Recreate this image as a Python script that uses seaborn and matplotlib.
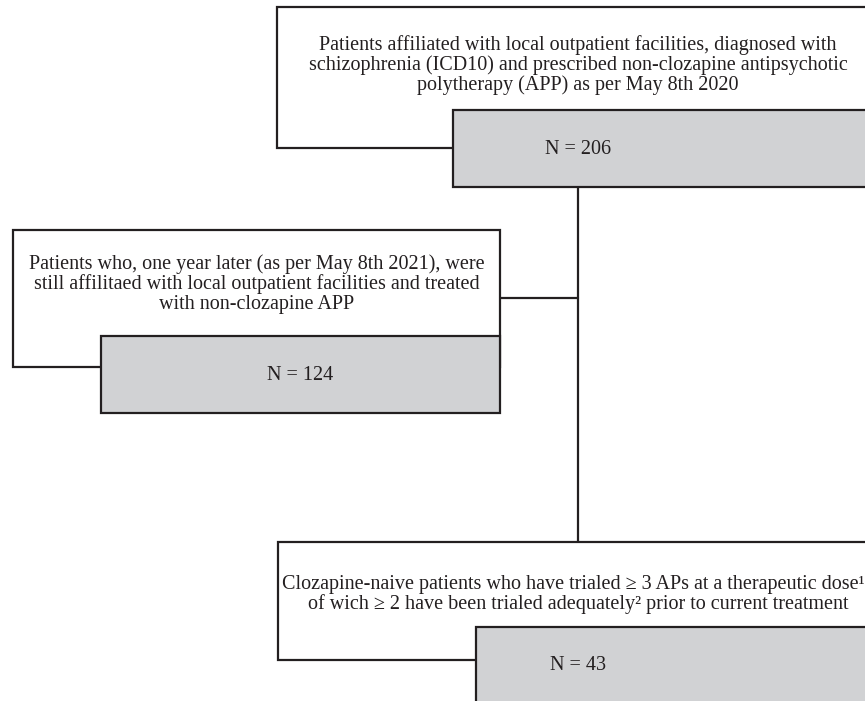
import matplotlib
matplotlib.use("Agg")
import matplotlib.pyplot as plt
import matplotlib.patches as mpatches
import seaborn as sns

sns.set_theme(style="white")
plt.rcParams['font.family'] = ['Liberation Serif', 'DejaVu Serif']

# Flowchart content (one list of lines per box)
box_lines = [
    ["Patients affiliated with local outpatient facilities, diagnosed with",
     "schizophrenia (ICD10) and prescribed non-clozapine antipsychotic",
     "polytherapy (APP) as per May 8th 2020"],
    ["Patients who, one year later (as per May 8th 2021), were",
     "still affilitaed with local outpatient facilities and treated",
     "with non-clozapine APP"],
    ["Clozapine-naive patients who have trialed \u2265 3 APs at a therapeutic dose\u00b9",
     "of wich \u2265 2 have been trialed adequately\u00b2 prior to current treatment"],
]
n_values = [206, 124, 43]

# Layout (pixel coordinates)
white_boxes = [(277, 7, 900, 148), (13, 230, 500, 367), (278, 542, 900, 660)]
gray_boxes = [(453, 110, 900, 187), (101, 336, 500, 413), (476, 627, 900, 720)]
line_x = [[578, 578, 578], [257, 257, 257], [573, 578]]
line_y = [[45, 65, 85], [264, 284, 304], [585, 604]]
n_pos = [(578, 150), (300, 376), (578, 665)]

W, H = 865, 701
fig = plt.figure(figsize=(W / 100, H / 100), dpi=100)
ax = fig.add_axes([0, 0, 1, 1])
ax.set_xlim(0, W)
ax.set_ylim(H, 0)
ax.axis("off")

edge = "#231f20"
gray = "#d1d2d4"
lw = 1.6
fs = 14.5

# connectors
ax.plot([578, 578], [187, 542], color=edge, lw=lw, zorder=1)
ax.plot([500, 578], [298, 298], color=edge, lw=lw, zorder=1)

for i in range(3):
    x0, y0, x1, y1 = white_boxes[i]
    ax.add_patch(mpatches.Rectangle((x0, y0), x1 - x0, y1 - y0, facecolor="white",
                                    edgecolor=edge, lw=lw, zorder=2))
    x0, y0, x1, y1 = gray_boxes[i]
    ax.add_patch(mpatches.Rectangle((x0, y0), x1 - x0, y1 - y0, facecolor=gray,
                                    edgecolor=edge, lw=lw, zorder=3))
    for txt, tx, ty in zip(box_lines[i], line_x[i], line_y[i]):
        ax.text(tx, ty, txt, ha="center", va="center", fontsize=fs,
                color="#231f20", zorder=4)
    nx, ny = n_pos[i]
    ax.text(nx, ny, f"N = {n_values[i]}", ha="center", va="center", fontsize=fs,
            color="#231f20", zorder=4)

fig.savefig("out.png", dpi=100)
